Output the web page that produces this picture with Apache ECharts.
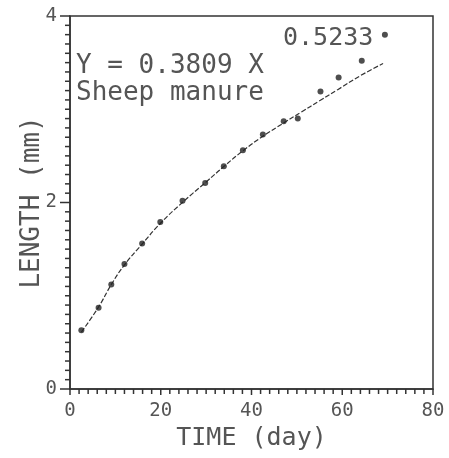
<!DOCTYPE html>
<html>
<head>
<meta charset="utf-8">
<script src="https://cdn.jsdelivr.net/npm/echarts@6/dist/echarts.min.js"></script>
<style>
  html, body { margin: 0; padding: 0; background: #fff; }
  #chart { width: 449px; height: 458px; }
</style>
</head>
<body>
<div id="chart"></div>
<script>
    // measured points (day, mm)
    var days    = [2.5, 6.3, 9.1, 12.0, 15.9, 19.9, 24.8, 29.8, 33.9, 38.1, 42.5, 47.1, 50.2, 55.2, 59.2, 64.3, 69.4];
    var lengths = [0.63, 0.87, 1.12, 1.34, 1.56, 1.79, 2.02, 2.21, 2.39, 2.56, 2.73, 2.87, 2.90, 3.19, 3.34, 3.52, 3.80];

    // fitted curve Y = 0.3809 X^0.5233, as drawn on the plot
    var fitDays    = [2.5, 6.3, 9.1, 12, 16, 20, 25, 30, 34, 38, 42.5, 47, 51, 55, 59, 64, 69];
    var fitLengths = [0.61, 0.88, 1.12, 1.33, 1.56, 1.78, 2.01, 2.22, 2.39, 2.55, 2.71, 2.85, 2.97, 3.09, 3.21, 3.36, 3.49];

    // axis ticks: labelled values and minor step
    var xMajor = [0, 20, 40, 60, 80];
    var yMajor = [0, 2, 4];
    var xStep = 2;
    var yStep = 0.1;

    var ink = '#333';
    var txt = '#555';
    var font = 'DejaVu Sans Mono';

    function pairs(xs, ys) {
        var out = [];
        for (var i = 0; i < xs.length; i++) {
            out.push([xs[i], ys[i]]);
        }
        return out;
    }

    // tick list: [value, length]
    function tickList(major, step, majorLen, minorLen) {
        var out = [];
        var last = major[major.length - 1];
        var n = Math.round((last - major[0]) / step);
        for (var i = 0; i <= n; i++) {
            var v = +(major[0] + i * step).toFixed(4);
            out.push([v, major.indexOf(v) >= 0 ? majorLen : minorLen]);
        }
        return out;
    }

    // ticks drawn as a custom series so they sit on the axis scale
    function tickSeries(dir, ticks) {
        return {
            type: 'custom',
            silent: true,
            clip: false,
            z: 5,
            data: ticks,
            encode: dir === 'x' ? { x: 0 } : { y: 0 },
            renderItem: function(params, api) {
                var v = api.value(0);
                var len = api.value(1);
                var p = dir === 'x' ? api.coord([v, 0]) : api.coord([0, v]);
                var shape = dir === 'x'
                    ? { x1: p[0], y1: p[1], x2: p[0], y2: p[1] + len }
                    : { x1: p[0] - len, y1: p[1], x2: p[0], y2: p[1] };
                return {
                    type: 'line',
                    shape: shape,
                    style: { stroke: ink, lineWidth: 1.5 }
                };
            }
        };
    }

    var chart = echarts.init(document.getElementById('chart'));

    chart.setOption({
        backgroundColor: '#fff',
        animation: false,
        grid: {
            left: 70, right: 16, top: 16, bottom: 69,
            show: true, borderColor: ink, borderWidth: 1.5
        },
        xAxis: {
            type: 'value', min: 0, max: 80, interval: 20,
            name: 'TIME (day)', nameLocation: 'middle', nameGap: 37,
            nameTextStyle: { fontFamily: font, fontSize: 25, color: txt },
            axisLine: { show: true, lineStyle: { color: ink, width: 1.5 } },
            axisTick: { show: false },
            splitLine: { show: false },
            axisLabel: { fontFamily: font, fontSize: 19, color: txt, margin: 13 }
        },
        yAxis: {
            type: 'value', min: 0, max: 4, interval: 2,
            name: 'LENGTH (mm)', nameLocation: 'middle', nameGap: 25, nameRotate: 90,
            nameMoveOverlap: false,
            nameTextStyle: { fontFamily: font, fontSize: 26, color: txt },
            axisLine: { show: true, lineStyle: { color: ink, width: 1.5 } },
            axisTick: { show: false },
            splitLine: { show: false },
            axisLabel: { fontFamily: font, fontSize: 19, color: txt, margin: 13 }
        },
        graphic: [
            {
                type: 'text', left: 76, top: 53,
                style: { text: 'Y = 0.3809 X', font: '26px "DejaVu Sans Mono"', fill: txt }
            },
            {
                type: 'text', left: 76, top: 80,
                style: { text: 'Sheep manure', font: '26px "DejaVu Sans Mono"', fill: txt }
            },
            {
                type: 'text', left: 283, top: 26,
                style: { text: '0.5233', font: '25px "DejaVu Sans Mono"', fill: txt }
            }
        ],
        series: [
            {
                type: 'line',
                data: pairs(fitDays, fitLengths),
                smooth: true,
                showSymbol: false,
                lineStyle: { color: ink, width: 1.2, type: [5, 2] },
                z: 2
            },
            {
                type: 'scatter',
                data: pairs(days, lengths),
                symbol: 'circle',
                symbolSize: 6,
                itemStyle: { color: '#222' },
                z: 3
            },
            tickSeries('x', tickList(xMajor, xStep, 6, 5)),
            tickSeries('y', tickList(yMajor, yStep, 10, 5))
        ]
    });
</script>
</body>
</html>
